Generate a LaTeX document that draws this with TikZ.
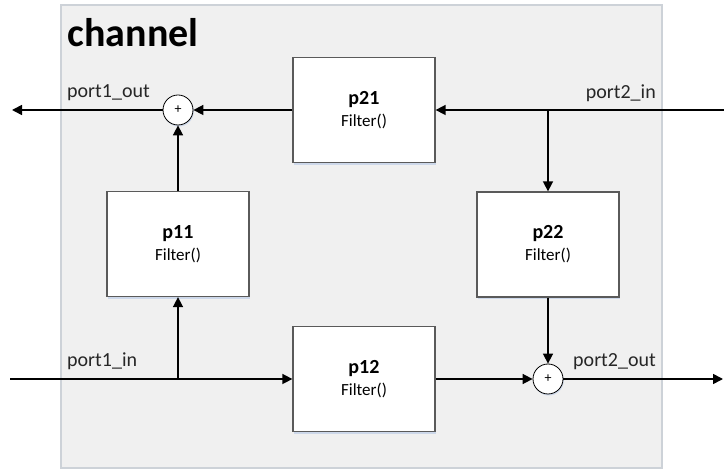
\documentclass[tikz,border=0pt]{standalone}
\usepackage{fontspec}
\setmainfont{Carlito}
\usetikzlibrary{arrows.meta,shadows}

\definecolor{panelfill}{RGB}{240,240,240}
\definecolor{panelline}{RGB}{205,210,216}
\definecolor{boxline}{RGB}{90,90,90}
\definecolor{shadowblue}{RGB}{205,216,234}

\begin{document}
\begin{tikzpicture}[x=1pt,y=-1pt,
  filterbox/.style={draw=boxline, line width=1.3pt, fill=white,
    minimum width=142pt, minimum height=105pt, inner sep=0pt, align=center,
    font=\fontsize{17}{22}\selectfont,
    general shadow={shadow xshift=1pt, shadow yshift=-2.5pt, fill=shadowblue}},
  sumnode/.style={circle, draw=black, line width=0.8pt, fill=white,
    minimum size=30pt, inner sep=0pt, font=\fontsize{14}{14}\selectfont,
    general shadow={shadow xshift=0.8pt, shadow yshift=-1.5pt, fill=shadowblue}},
  wire/.style={line width=1.6pt, black},
  flow/.style={wire, -{Triangle[length=10pt,width=10pt]}},
  portlabel/.style={font=\fontsize{20}{24}\selectfont, text=black!85, inner sep=0pt}
]
\useasboundingbox (0,0) rectangle (724,470);

% enclosing channel panel
\path[draw=panelline, fill=panelfill, line width=1.2pt] (61,5) rectangle (662,468);
\node[anchor=base west, inner sep=0pt, font=\fontsize{40}{44}\selectfont\bfseries] (title) at (67.5,47) {channel};

% filter blocks
\node[filterbox] (p21) at (364,110) {{\fontsize{20}{22}\selectfont\bfseries p21}\\Filter()};
\node[filterbox] (p11) at (178,244) {{\fontsize{20}{22}\selectfont\bfseries p11}\\Filter()};
\node[filterbox] (p12) at (364,379) {{\fontsize{20}{22}\selectfont\bfseries p12}\\Filter()};
\node[filterbox] (p22) at (548,244.5) {{\fontsize{20}{22}\selectfont\bfseries p22}\\Filter()};

% summing junctions
\node[sumnode] (s1) at (178,110) {+};
\node[sumnode] (s2) at (548,379) {+};

% port ends and branch points
\coordinate (out1) at (12,110);
\coordinate (in1) at (10,379);
\coordinate (br1) at (178,379);
\coordinate (in2) at (724,110);
\coordinate (br2) at (548,110);
\coordinate (out2) at (723,379);

% port labels
\node[portlabel, anchor=base west] (l1o) at (67,98) {port1\_out};
\node[portlabel, anchor=base west] (l1i) at (67,367) {port1\_in};
\node[portlabel, anchor=base east] (l2i) at (656,99) {port2\_in};
\node[portlabel, anchor=base east] (l2o) at (656,367) {port2\_out};

% signal flow
\draw[flow] (p21.west) -- (s1.east);
\draw[flow] (s1.west) -- (out1);
\draw[flow] (p11.north) -- (s1.south);
\draw[flow] (in1) -- (p12.west);
\draw[flow] (br1) -- (p11.south);
\draw[flow] (in2) -- (p21.east);
\draw[flow] (br2) -- (p22.north);
\draw[flow] (p22.south) -- (s2.north);
\draw[flow] (p12.east) -- (s2.west);
\draw[flow] (s2.east) -- (out2);
\end{tikzpicture}
\end{document}
